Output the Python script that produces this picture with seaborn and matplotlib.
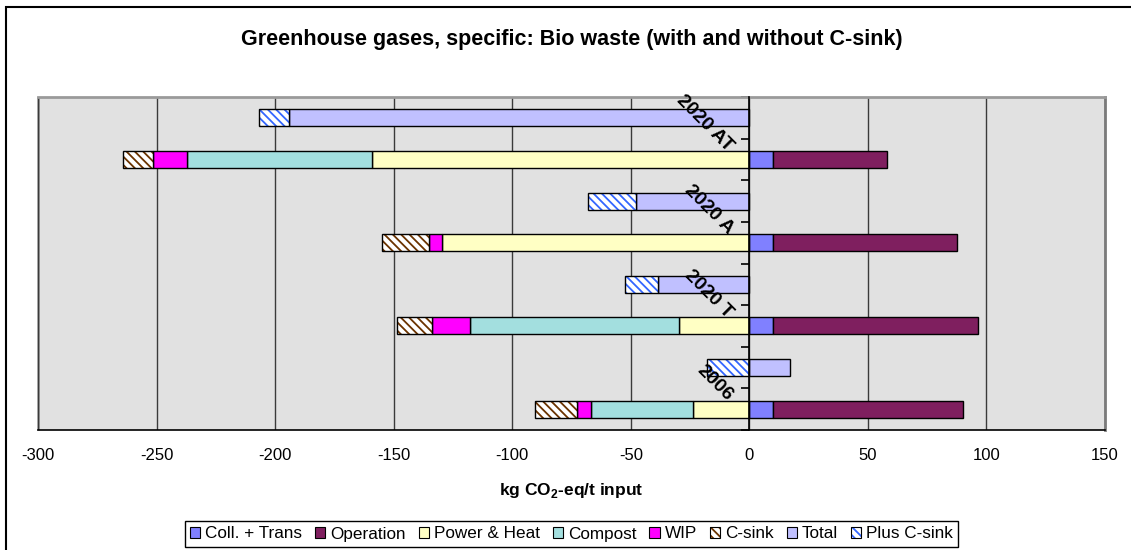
import matplotlib
matplotlib.use("Agg")
import matplotlib.pyplot as plt
from matplotlib.patches import Patch, Rectangle
import seaborn as sns
import numpy as np

# ---- data (top-to-bottom order of the groups) ----
groups = ["2020 AT", "2020 A", "2020 T", "2006"]
coll_trans = [10, 10, 10, 10]
operation = [48, 77.5, 86.3, 80.3]
power_heat = [-159, -129.5, -29.5, -23.9]
compost = [-78.3, 0, -88.3, -43]
wip = [-14.3, -5.5, -16.2, -5.9]
c_sink = [-12.5, -20, -14.5, -17.8]
total = [-194, -48, -38.4, 17.2]
plus_c_sink = [-12.7, -20, -14, -18]

x_ticks = [-300, -250, -200, -150, -100, -50, 0, 50, 100, 150]

sns.set_theme(style="white")
plt.rcParams["font.family"] = ["Liberation Sans", "DejaVu Sans"]
plt.rcParams["axes.unicode_minus"] = False
plt.rcParams["mathtext.fontset"] = "custom"
plt.rcParams["mathtext.bf"] = "Liberation Sans:bold"
plt.rcParams["mathtext.rm"] = "Liberation Sans"
plt.rcParams["hatch.linewidth"] = 1.3
plt.rcParams["text.color"] = "black"
plt.rcParams["axes.labelcolor"] = "black"
plt.rcParams["xtick.color"] = "black"
plt.rcParams["ytick.color"] = "black"

HATCH = "\\\\\\\\"

fig = plt.figure(figsize=(11.31, 5.5), dpi=100)
ax = fig.add_axes([38 / 1131, 1 - 430 / 550, (1105 - 38) / 1131, (430 - 97) / 550])
ax.set_facecolor("#E1E1E1")

comp_series = [
    ("Coll. + Trans", coll_trans, dict(color="#8080FF")),
    ("Operation", operation, dict(color="#7F1F5F")),
    ("Power & Heat", power_heat, dict(color="#FFFFC4")),
    ("Compost", compost, dict(color="#A3DFDF")),
    ("WIP", wip, dict(color="#FF00FF")),
    ("C-sink", c_sink, dict(color="white", hatch=HATCH, hcolor="#6B3300")),
]
tot_series = [
    ("Total", total, dict(color="#C0C0FF")),
    ("Plus C-sink", plus_c_sink, dict(color="white", hatch=HATCH, hcolor="#3366FF")),
]

bar_h = 0.41


def draw_stack(series, rows):
    for gi, row in enumerate(rows):
        pos, neg = 0.0, 0.0
        for name, vals, st in series:
            v = vals[gi]
            if v == 0:
                continue
            if v >= 0:
                left = pos
                pos += v
            else:
                left = neg
                neg += v
            if "hatch" in st:
                ax.barh(row, v, left=left, height=bar_h, color="white",
                        edgecolor=st["hcolor"], hatch=st["hatch"], linewidth=0, zorder=3)
                ax.barh(row, v, left=left, height=bar_h, fill=False,
                        edgecolor="black", linewidth=1.0, zorder=4)
            else:
                ax.barh(row, v, left=left, height=bar_h, color=st["color"],
                        edgecolor="black", linewidth=1.0, zorder=3)


tot_rows = [0, 2, 4, 6]
comp_rows = [1, 3, 5, 7]
draw_stack(comp_series, comp_rows)
draw_stack(tot_series, tot_rows)

ax.set_xlim(-300, 150)
ax.set_ylim(7.5, -0.5)
ax.set_xticks(x_ticks)
ax.set_xticklabels([str(t) for t in x_ticks], fontsize=12)
ax.set_yticks(np.arange(-0.5, 8.0, 1.0))
ax.set_yticklabels([])
ax.grid(False)
for t in x_ticks:
    ax.axvline(t, color="#3A3A3A", linewidth=1.0, zorder=1)

ax.spines["left"].set_position(("data", 0))
ax.spines["left"].set_color("black")
ax.spines["left"].set_linewidth(1.2)
ax.spines["left"].set_zorder(5)
ax.spines["bottom"].set_color("black")
ax.spines["bottom"].set_linewidth(1.2)
ax.spines["top"].set_color("#9A9A9A")
ax.spines["top"].set_linewidth(2)
ax.spines["right"].set_color("#7A7A7A")
ax.spines["right"].set_linewidth(2)
ax.tick_params(axis="x", direction="out", length=6, width=1.2, color="black", pad=7)
ax.tick_params(axis="y", direction="out", length=6, width=1.2, color="black", left=True)
# grey left border of plot area
ax.add_patch(Rectangle((0, 0), 0, 1, transform=ax.transAxes, fill=False,
                       edgecolor="#9A9A9A", linewidth=2, clip_on=False, zorder=0.5))

for g, r in zip(groups, tot_rows):
    ax.text(-8, r + 0.74, g, rotation=-45, ha="right", va="center",
            rotation_mode="anchor", fontsize=14, fontweight="bold", zorder=6)

ax.set_xlabel(r"kg CO$_\mathbf{2}$-eq/t input", fontsize=12.5, fontweight="bold", labelpad=13)

fig.text(0.506, 1 - 40 / 550, "Greenhouse gases, specific: Bio waste (with and without C-sink)",
         ha="center", va="center", fontsize=15.5, fontweight="bold")

# outer chart frame
fig.patches.append(Rectangle((6 / 1131, -0.05), 1.2, 1 - 7 / 550 + 0.05,
                             transform=fig.transFigure, fill=False, edgecolor="black",
                             linewidth=1.5))

handles = []
labels = []
for name, vals, st in comp_series + tot_series:
    if "hatch" in st:
        h = (Patch(facecolor="white", edgecolor=st["hcolor"], hatch=HATCH, linewidth=0),
             Patch(fill=False, edgecolor="black", linewidth=0.8))
    else:
        h = Patch(facecolor=st["color"], edgecolor="black", linewidth=0.8)
    handles.append(h)
    labels.append(name)

leg = fig.legend(handles, labels, loc="center", bbox_to_anchor=(571.5 / 1131, 1 - 534 / 550),
                 ncol=8, fontsize=12.3, frameon=True, fancybox=False, framealpha=1,
                 edgecolor="black", handlelength=0.6, handleheight=0.6,
                 handletextpad=0.3, columnspacing=0.75, borderpad=0.3)
leg.get_frame().set_linewidth(1.0)

fig.savefig("out.png", dpi=100)
